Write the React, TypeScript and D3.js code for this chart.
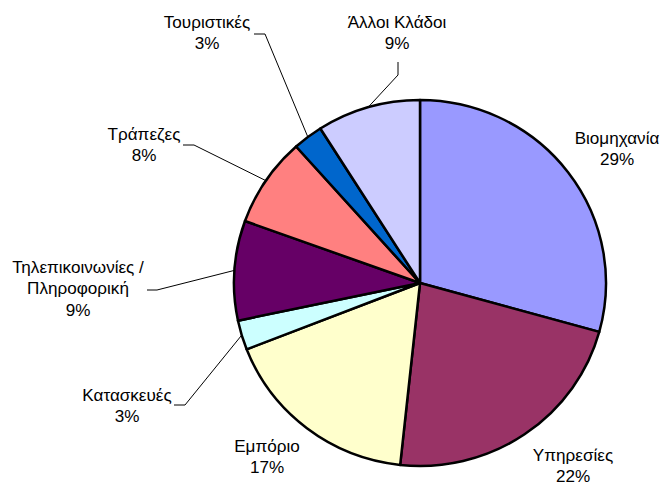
import React, { useRef, useEffect } from 'react';
import * as d3 from 'd3';

// sectors, clockwise from 12 o'clock
const categories = [
  'Βιομηχανία',
  'Υπηρεσίες',
  'Εμπόριο',
  'Κατασκευές',
  'Τηλεπικοινωνίες / Πληροφορική',
  'Τράπεζες',
  'Τουριστικές',
  'Άλλοι Κλάδοι',
];
const shares = [29.3, 22.4, 17.4, 2.6, 8.8, 7.9, 2.6, 9.0];
const colors = ['#9999FF', '#993366', '#FFFFCC', '#CCFFFF', '#660066', '#FF8080', '#0066CC', '#CCCCFF'];

// label text lines (category name may wrap)
const labelLines = [
  ['Βιομηχανία'],
  ['Υπηρεσίες'],
  ['Εμπόριο'],
  ['Κατασκευές'],
  ['Τηλεπικοινωνίες /', 'Πληροφορική'],
  ['Τράπεζες'],
  ['Τουριστικές'],
  ['Άλλοι Κλάδοι'],
];

// layout: label centre x / first baseline y, and optional leader elbow
const labelLayout = [
  { x: 617, y: 144, leader: null },
  { x: 573, y: 461, leader: null },
  { x: 267, y: 452, leader: null },
  { x: 127, y: 401, leader: [[174, 405], [185, 405]] },
  { x: 78, y: 273, leader: [[147, 290], [157, 290]] },
  { x: 144, y: 140, leader: [[183, 145], [194, 145]] },
  { x: 207, y: 28, leader: [[254, 34], [265, 34]] },
  { x: 397, y: 28, leader: [[398, 62], [398, 75]] },
];

const W = 663;
const H = 485;

const App = () => {
  const svgRef = useRef(null);

  useEffect(() => {
    const svg = d3.select(svgRef.current);
    svg.selectAll('*').remove();

    const cx = 420;
    const cy = 283;
    const rx = 186;
    const ry = 183;
    const lineH = 21.5;

    const total = d3.sum(shares);
    const data = shares.map((v, i) => ({ v, i }));
    const pie = d3.pie().value(d => d.v).sort(null).startAngle(0).endAngle(2 * Math.PI);
    const arcs = pie(data);
    const arc = d3.arc().innerRadius(0).outerRadius(rx);

    const g = svg.append('g').attr('transform', `translate(${cx},${cy}) scale(1,${ry / rx})`);
    g.selectAll('path')
      .data(arcs)
      .join('path')
      .attr('d', arc)
      .attr('fill', d => colors[d.data.i])
      .attr('stroke', '#000')
      .attr('stroke-width', 2.5)
      .attr('stroke-linejoin', 'round');

    // leader lines
    const line = d3.line();
    arcs.forEach(a => {
      const lay = labelLayout[a.data.i];
      if (!lay.leader) return;
      const mid = (a.startAngle + a.endAngle) / 2;
      const edge = [cx + rx * Math.sin(mid), cy - ry * Math.cos(mid)];
      svg.append('path')
        .attr('d', line([...lay.leader, edge]))
        .attr('fill', 'none')
        .attr('stroke', '#000')
        .attr('stroke-width', 1);
    });

    // labels (the original's Arial runs a little wider than Liberation Sans)
    arcs.forEach(a => {
      const i = a.data.i;
      const lay = labelLayout[i];
      const lines = [...labelLines[i], `${Math.round((a.data.v / total) * 100)}%`];
      const t = svg.append('text')
        .attr('transform', `translate(${lay.x},0) scale(1.07,1)`)
        .attr('text-anchor', 'middle')
        .attr('font-family', '"Liberation Sans", Arial, sans-serif')
        .attr('font-size', 16)
        .attr('fill', '#000');
      lines.forEach((s, k) => {
        t.append('tspan').attr('x', 0).attr('y', lay.y + k * lineH).text(s);
      });
    });
  }, []);

  return (
    <svg
      ref={svgRef}
      width={W}
      height={H}
      style={{ position: 'absolute', left: 0, top: 0, background: '#fff' }}
    />
  );
};

export default App;
